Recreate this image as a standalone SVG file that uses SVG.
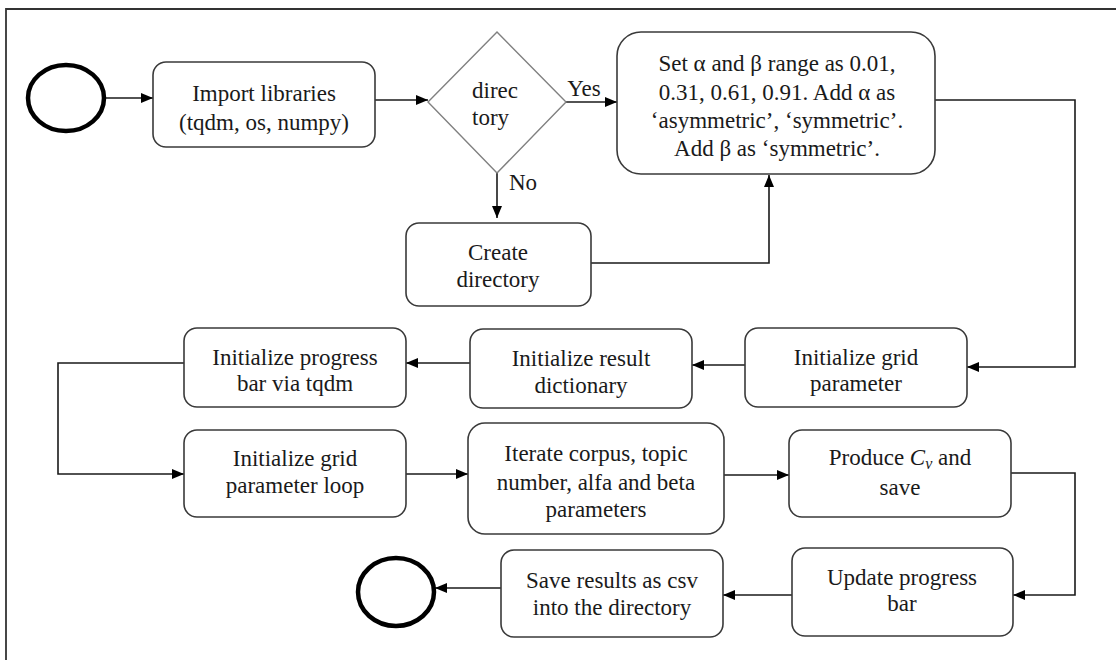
<svg xmlns="http://www.w3.org/2000/svg" width="1116" height="660" viewBox="0 0 1116 660">
  <style>
    .box { fill: #ffffff; stroke: #3a3a3a; stroke-width: 1.6; }
    .dia { fill: #ffffff; stroke: #808080; stroke-width: 1.4; }
    .ev { fill: #ffffff; stroke: #000000; stroke-width: 4.5; }
    .t { font-family: "Liberation Serif", "Times New Roman", serif; font-size: 23px; fill: #1a1a1a; text-anchor: middle; }
    .conn { fill: none; stroke: #1a1a1a; stroke-width: 1.6; }
  </style>
  <defs>
    <marker id="arr" viewBox="0 0 12 10" refX="12" refY="5" markerWidth="12" markerHeight="10" markerUnits="userSpaceOnUse" orient="auto">
      <path d="M0,0 L12,5 L0,10 z" fill="#000000"/>
    </marker>
  </defs>

  <rect width="1116" height="660" fill="#ffffff"/>
  <!-- frame -->
  <path d="M6,660 V9 H1116" fill="none" stroke="#333333" stroke-width="1.8"/>

  <g id="connectors">
    <line class="conn" x1="106" y1="98" x2="153" y2="98" marker-end="url(#arr)"/>
    <line class="conn" x1="375" y1="100" x2="428" y2="100" marker-end="url(#arr)"/>
    <line class="conn" x1="566" y1="102" x2="617" y2="102" marker-end="url(#arr)"/>
    <line class="conn" x1="497" y1="173" x2="497" y2="218" marker-end="url(#arr)"/>
    <path class="conn" d="M591,263 H769 V175" marker-end="url(#arr)"/>
    <path class="conn" d="M935,100 H1075 V367 H967" marker-end="url(#arr)"/>
    <line class="conn" x1="745" y1="365" x2="692" y2="365" marker-end="url(#arr)"/>
    <line class="conn" x1="470" y1="363" x2="406" y2="363" marker-end="url(#arr)"/>
    <path class="conn" d="M184,363 H58 V474 H184" marker-end="url(#arr)"/>
    <line class="conn" x1="406" y1="474" x2="468" y2="474" marker-end="url(#arr)"/>
    <line class="conn" x1="724" y1="475" x2="789" y2="475" marker-end="url(#arr)"/>
    <path class="conn" d="M1011,473 H1075 V595 H1013" marker-end="url(#arr)"/>
    <line class="conn" x1="792" y1="595" x2="723" y2="595" marker-end="url(#arr)"/>
    <line class="conn" x1="501" y1="588" x2="435" y2="588" marker-end="url(#arr)"/>
  </g>

  <g id="start">
    <ellipse class="ev" cx="66" cy="98" rx="38" ry="33"/>
  </g>

  <g id="import">
    <rect class="box" x="153" y="62" width="222" height="85" rx="13"/>
    <text class="t" x="264" y="101">Import libraries</text>
    <text class="t" x="264" y="130">(tqdm, os, numpy)</text>
  </g>

  <g id="decision">
    <polygon class="dia" points="497,32 566,102 497,173 428,102"/>
    <text class="t" x="472" y="98" style="text-anchor:start">direc</text>
    <text class="t" x="472" y="125" style="text-anchor:start">tory</text>
    <text class="t" x="584" y="96">Yes</text>
    <text class="t" x="523" y="190">No</text>
  </g>

  <g id="set-range">
    <rect class="box" x="617" y="32" width="318" height="142" rx="24"/>
    <text class="t" x="777" y="71">Set α and β range as 0.01,</text>
    <text class="t" x="777" y="100">0.31, 0.61, 0.91. Add α as</text>
    <text class="t" x="777" y="128">‘asymmetric’, ‘symmetric’.</text>
    <text class="t" x="777" y="156">Add β as ‘symmetric’.</text>
  </g>

  <g id="create-dir">
    <rect class="box" x="406" y="223" width="185" height="83" rx="13"/>
    <text class="t" x="498" y="260">Create</text>
    <text class="t" x="498" y="287">directory</text>
  </g>

  <g id="init-grid">
    <rect class="box" x="745" y="328" width="222" height="79" rx="13"/>
    <text class="t" x="856" y="365">Initialize grid</text>
    <text class="t" x="856" y="391">parameter</text>
  </g>

  <g id="init-result">
    <rect class="box" x="470" y="329" width="222" height="79" rx="13"/>
    <text class="t" x="581" y="366">Initialize result</text>
    <text class="t" x="581" y="393">dictionary</text>
  </g>

  <g id="init-progress">
    <rect class="box" x="184" y="328" width="222" height="79" rx="13"/>
    <text class="t" x="295" y="365">Initialize progress</text>
    <text class="t" x="295" y="391">bar via tqdm</text>
  </g>

  <g id="grid-loop">
    <rect class="box" x="184" y="430" width="222" height="87" rx="13"/>
    <text class="t" x="295" y="466">Initialize grid</text>
    <text class="t" x="295" y="493">parameter loop</text>
  </g>

  <g id="iterate">
    <rect class="box" x="468" y="423" width="256" height="111" rx="17"/>
    <text class="t" x="596" y="461">Iterate corpus, topic</text>
    <text class="t" x="596" y="490">number, alfa and beta</text>
    <text class="t" x="596" y="517">parameters</text>
  </g>

  <g id="produce">
    <rect class="box" x="789" y="430" width="222" height="87" rx="13"/>
    <text class="t" x="900" y="465">Produce <tspan font-style="italic">C</tspan><tspan font-style="italic" font-size="16" dy="4">v</tspan><tspan dy="-4"> and</tspan></text>
    <text class="t" x="900" y="495">save</text>
  </g>

  <g id="update-progress">
    <rect class="box" x="792" y="548" width="221" height="88" rx="13"/>
    <text class="t" x="902" y="585">Update progress</text>
    <text class="t" x="902" y="611">bar</text>
  </g>

  <g id="save-results">
    <rect class="box" x="501" y="550" width="222" height="87" rx="13"/>
    <text class="t" x="612" y="588">Save results as csv</text>
    <text class="t" x="612" y="615">into the directory</text>
  </g>

  <g id="end">
    <ellipse class="ev" cx="396" cy="592" rx="38" ry="34"/>
  </g>
</svg>
